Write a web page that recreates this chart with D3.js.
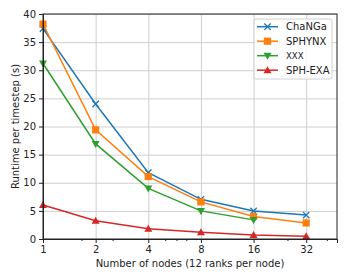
<!DOCTYPE html>
<html>
<head>
<meta charset="utf-8">
<script src="https://cdn.jsdelivr.net/npm/d3@7"></script>
<style>
  body { margin: 0; background: #fff; }
  text { font-family: "DejaVu Sans", sans-serif; fill: #222; }
  .axis-grid line { stroke: #cfcfcf; stroke-width: 1; }
  .axis-grid path { display: none; }
  .axis path, .axis line { stroke: #222; }
  .axis text { font-size: 10px; font-family: "DejaVu Sans", sans-serif; fill: #222; }
</style>
</head>
<body>
<div id="chart"></div>
<script>
// Data
var nodes = [1, 2, 4, 8, 16, 32];
var changa = [37.4, 24.0, 11.8, 7.05, 4.98, 4.25];
var sphynx = [38.2, 19.4, 11.1, 6.6, 4.0, 2.85];
var xxx = [31.2, 16.9, 9.0, 5.0, 3.4];
var sphexa = [6.05, 3.26, 1.84, 1.2, 0.7, 0.48];
var yTicks = [0, 5, 10, 15, 20, 25, 30, 35, 40];
var xMinorTicks = [1.66, 2.5, 5, 5.8, 6.6, 25, 42];

var seriesNames = ["ChaNGa", "SPHYNX", "XXX", "SPH-EXA"];
var seriesValues = [changa, sphynx, xxx, sphexa];
var colors = ["#1f77b4", "#ff7f0e", "#2ca02c", "#d62728"];
var markers = ["x", "square", "tridown", "triup"];

// Define SVG area dimensions
var svgWidth = 350;
var svgHeight = 280;

var margin = {
  top: 14,
  right: 13,
  bottom: 41,
  left: 43
};

var chartWidth = svgWidth - margin.left - margin.right;
var chartHeight = svgHeight - margin.top - margin.bottom;

var svg = d3.select("#chart")
  .append("svg")
  .attr("width", svgWidth)
  .attr("height", svgHeight);

var chartGroup = svg.append("g")
  .attr("transform", `translate(${margin.left}, ${margin.top})`);

// scales
var xScale = d3.scaleLog()
  .base(2)
  .range([0, chartWidth])
  .domain([1, 48]);

var yScale = d3.scaleLinear()
  .range([chartHeight, 0])
  .domain([0, 40]);

// grids
var xGrid = d3.axisBottom(xScale).tickValues(nodes).tickSize(-chartHeight).tickFormat('');
var yGrid = d3.axisLeft(yScale).tickValues(yTicks).tickSize(-chartWidth).tickFormat('');

chartGroup.append("g")
  .attr("transform", `translate(0, ${chartHeight})`)
  .attr("class", "x axis-grid")
  .call(xGrid);

chartGroup.append("g")
  .attr("class", "y axis-grid")
  .call(yGrid);

// lines
var drawLine = d3.line()
  .x((d, i) => xScale(nodes[i]))
  .y(d => yScale(d));

seriesValues.forEach(function(values, k) {
  chartGroup.append("path")
    .attr("d", drawLine(values))
    .attr("fill", "none")
    .attr("stroke", colors[k])
    .attr("stroke-width", 1.5);
});

// marker drawing helper
function drawMarker(g, type, color, x, y) {
  if (type == "x") {
    var s = 3.2;
    g.append("path")
      .attr("d", `M${x - s},${y - s}L${x + s},${y + s}M${x - s},${y + s}L${x + s},${y - s}`)
      .attr("stroke", color)
      .attr("stroke-width", 1.3)
      .attr("fill", "none");
  } else if (type == "square") {
    g.append("rect")
      .attr("x", x - 3.6)
      .attr("y", y - 3.6)
      .attr("width", 7.2)
      .attr("height", 7.2)
      .attr("fill", color);
  } else if (type == "tridown") {
    g.append("path")
      .attr("d", `M${x - 4},${y - 3}L${x + 4},${y - 3}L${x},${y + 4}Z`)
      .attr("fill", color);
  } else {
    g.append("path")
      .attr("d", `M${x - 4},${y + 3}L${x + 4},${y + 3}L${x},${y - 4}Z`)
      .attr("fill", color);
  }
}

var markerGroup = chartGroup.append("g");
seriesValues.forEach(function(values, k) {
  values.forEach(function(v, i) {
    drawMarker(markerGroup, markers[k], colors[k], xScale(nodes[i]), yScale(v));
  });
});

// axes
var xAxis = d3.axisBottom(xScale).tickValues(nodes).tickFormat(d3.format("d")).tickSizeOuter(0).tickSize(4).tickPadding(3);
var yAxis = d3.axisLeft(yScale).tickValues(yTicks).tickSizeOuter(0).tickSize(4).tickPadding(3);
var xMinor = d3.axisBottom(xScale).tickValues(xMinorTicks).tickFormat('').tickSizeOuter(0).tickSize(2);

chartGroup.append("g")
  .classed("axis", true)
  .call(yAxis);

chartGroup.append("g")
  .classed("axis", true)
  .attr("transform", "translate(0, " + chartHeight + ")")
  .call(xAxis);

chartGroup.append("g")
  .classed("axis", true)
  .attr("transform", "translate(0, " + chartHeight + ")")
  .call(xMinor);

// frame
chartGroup.append("rect")
  .attr("width", chartWidth)
  .attr("height", chartHeight)
  .attr("fill", "none")
  .attr("stroke", "#222")
  .attr("stroke-width", 1);

// axis labels
chartGroup.append("text")
  .attr("x", chartWidth / 2)
  .attr("y", chartHeight + 28)
  .attr("text-anchor", "middle")
  .attr("font-size", "10px")
  .text("Number of nodes (12 ranks per node)");

chartGroup.append("text")
  .attr("transform", "rotate(-90)")
  .attr("x", -chartHeight / 2)
  .attr("y", -24)
  .attr("text-anchor", "middle")
  .attr("font-size", "10px")
  .text("Runtime per timestep (s)");

// legend
var legend = chartGroup.append("g")
  .attr("transform", `translate(${chartWidth - 83}, 5)`);

legend.append("rect")
  .attr("width", 78)
  .attr("height", 60)
  .attr("rx", 2)
  .attr("fill", "#fff")
  .attr("fill-opacity", 0.8)
  .attr("stroke", "#d0d0d0")
  .attr("stroke-width", 1);

seriesNames.forEach(function(name, k) {
  var ly = 7.7 + k * 14.5;
  legend.append("line")
    .attr("x1", 3)
    .attr("x2", 24)
    .attr("y1", ly)
    .attr("y2", ly)
    .attr("stroke", colors[k])
    .attr("stroke-width", 1.5);
  drawMarker(legend, markers[k], colors[k], 13.5, ly);
  var t = legend.append("text")
    .attr("x", 32)
    .attr("y", ly + 3.5)
    .attr("font-size", "10px")
    .text(name);
  if (name == "XXX") {
    t.attr("font-family", "'DejaVu Serif', serif").attr("font-size", "8.5px");
  }
});
</script>
</body>
</html>
